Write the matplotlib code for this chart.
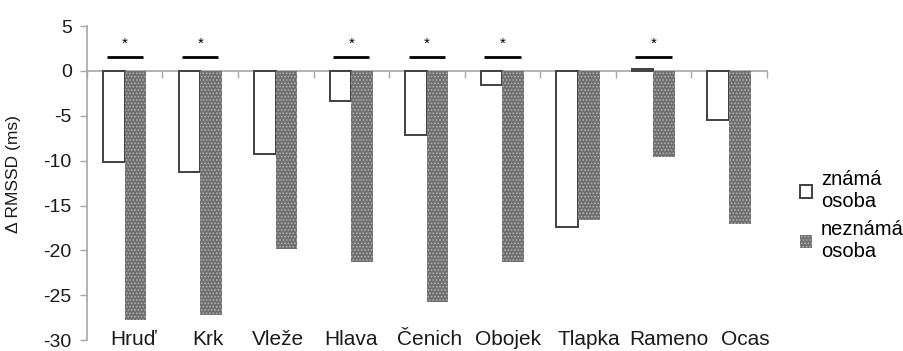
import matplotlib
matplotlib.use("Agg")
import matplotlib.pyplot as plt
import matplotlib.transforms as mtransforms
import numpy as np
from matplotlib.patches import Patch

plt.rcParams['font.family'] = ['Liberation Sans', 'DejaVu Sans']
plt.rcParams['hatch.linewidth'] = 0.8

categories = ["Hruď", "Krk", "Vleže", "Hlava", "Čenich", "Obojek", "Tlapka", "Rameno", "Ocas"]
znama = [-10.2, -11.3, -9.3, -3.4, -7.1, -1.6, -17.4, 0.2, -5.5]
neznama = [-27.8, -27.2, -19.8, -21.3, -25.7, -21.3, -16.6, -9.6, -17.1]
significant = [True, True, False, True, True, True, False, True, False]
series_labels = ["známá\nosoba", "neznámá\nosoba"]
yticks = [5, 0, -5, -10, -15, -20, -25, -30]

# layout: horizontal shift of the category labels (pixels), as placed in the original
label_shift_px = [9, 8, 2, 0, 3, 6, 11, 15, 16]

fig = plt.figure(figsize=(9.04, 3.51), dpi=100)
ax = fig.add_axes([0.0962, 0.031, 0.752, 0.8946])

x = np.arange(len(categories))
w = 1 / 3.5
axis_gray = '#a6a6a6'
gray_face = '#6f6f6f'
gray_hatch = '#b0b0b0'

ax.bar(x - w / 2, znama, w, facecolor='white', edgecolor='#404040', linewidth=1.4, zorder=3)
ax.bar(x + w / 2, neznama, w, facecolor=gray_face, edgecolor=gray_hatch, hatch='.....',
       linewidth=0, zorder=3)

for i, s in enumerate(significant):
    if s:
        ax.plot([i - 0.24, i + 0.24], [1.6, 1.6], color='black', lw=2, solid_capstyle='butt', zorder=4)
        ax.text(i, 3.0, '*', ha='center', va='center', fontsize=11, color='black')

ax.set_xlim(-0.5, len(categories) - 0.5)
ax.set_ylim(-30, 5)
ax.set_yticks(yticks)
ax.set_yticklabels([str(v) for v in yticks], fontsize=14, color='#1a1a1a')
ax.tick_params(axis='y', direction='out', length=5, color=axis_gray, width=1, pad=6)

for sp in ['top', 'right']:
    ax.spines[sp].set_visible(False)
ax.spines['left'].set_color(axis_gray)
ax.spines['left'].set_linewidth(1.2)
ax.spines['bottom'].set_position(('data', 0))
ax.spines['bottom'].set_color(axis_gray)
ax.spines['bottom'].set_linewidth(1.2)
ax.spines['bottom'].set_zorder(2)
ax.set_xticks(np.arange(len(categories) + 1) - 0.5)
ax.set_xticklabels([])
ax.tick_params(axis='x', direction='out', length=5, color=axis_gray, width=1)

for i, c in enumerate(categories):
    tr = mtransforms.offset_copy(ax.transData, fig=fig, x=label_shift_px[i], y=0, units='dots')
    ax.text(i, -29.9, c, ha='center', va='center', fontsize=15, color='#1a1a1a',
            clip_on=False, transform=tr)

ax.set_ylabel('Δ RMSSD (ms)', fontsize=12.5, color='#1a1a1a')
ax.yaxis.set_label_coords(-0.097, 0.53)

handles = [Patch(facecolor='white', edgecolor='#404040', linewidth=1.4),
           Patch(facecolor=gray_face, edgecolor=gray_hatch, hatch='.....', linewidth=0)]
fig.legend(handles, series_labels, loc='center left', bbox_to_anchor=(0.885, 0.385),
           frameon=False, fontsize=14.5, handlelength=0.6, handleheight=0.6,
           handletextpad=0.45, labelspacing=0.45, borderpad=0, borderaxespad=0)

fig.savefig('out.png', dpi=100)
